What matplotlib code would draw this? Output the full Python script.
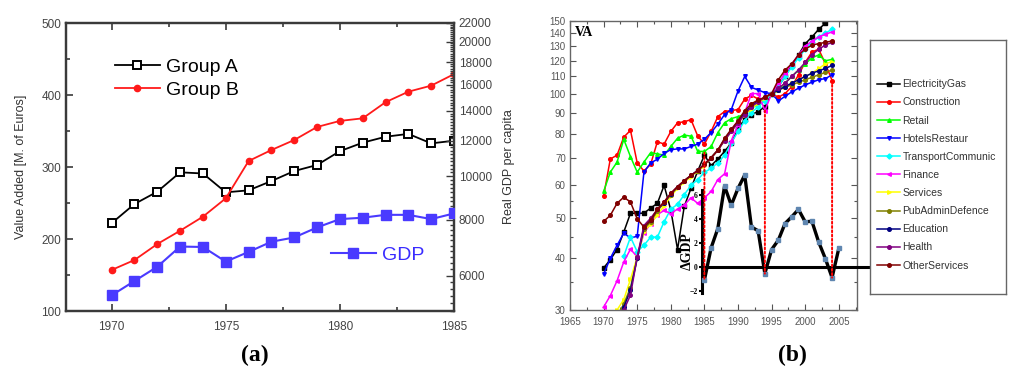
import numpy as np
import matplotlib
matplotlib.use("Agg")
import matplotlib.pyplot as plt
from matplotlib import font_manager as fm
from matplotlib.ticker import FixedLocator, NullFormatter, FuncFormatter, MultipleLocator
from matplotlib.patches import ConnectionPatch

# ---------------- data: panel (a) ----------------
years_a = list(range(1970, 1986))
group_a = [222, 248.6, 265.7, 292.6, 291, 264.8, 267.6, 280.5, 294.4, 302.8, 322, 333.8, 342, 346, 332.8, 336.5]
group_b = [157, 170.8, 193, 211.5, 231, 256.5, 308.3, 323.6, 337.5, 355.6, 364, 367.6, 390, 404.6, 413, 429]
gdp_pc = [5420, 5834, 6278, 6966, 6950, 6447, 6776, 7141, 7300, 7685, 8022, 8080, 8200, 8200, 8022, 8260]

# ---------------- data: panel (b) ----------------
years_b = list(range(1970, 2005))
nan = np.nan
electricity_gas = [37.9, 39.7, 42, 46.3, 51.4, 51.4, 51.4, 52.9, 54.3, 60, 52.3, 42, 53.4, 59, 65, 71, 67, 69.5, 72.5, 76,
                   82, 87, 89, 90.5, 93, 100, 104, 110, 117, 124, 132, 137, 143, 148, 152]
construction = [56.5, 69.5, 71, 78.5, 81.5, 68, 65, 67.5, 76.5, 75.5, 81, 85, 85.5, 86.5, 79, 75.5, 81, 88, 90.5, 91,
                91.5, 97, 99, 97, 97, 100, 98, 100, 104, 111, 119, 126, 128, 118, 107.5]
retail = [58, 64.6, 68.3, 77.5, 70.4, 64.6, 68.3, 72, 71.5, 71, 74.5, 78, 79.4, 78.9, 72.5, 72.5, 74.5, 80.5, 85, 87,
          88, 89, 92, 94.5, 97, 100, 102, 106, 110, 114, 118, 122, 124, 120, 121]
hotels_restaur = [36.6, 40, 43, 46, 44.8, 45.2, 64.6, 68, 69.4, 71.7, 73.2, 73.5, 73.5, 74.5, 75.5, 77.6, 80.5, 84.4, 89,
                  91.5, 101.5, 110, 103.5, 102, 100.5, 100, 96, 98.5, 101, 103, 105, 106.5, 108, 108.7, 111]
transport_communic = [nan, nan, nan, 40.5, 45, 41.5, 43, 45, 45, 49, 52.6, 54, 57, 60, 62, 64.5, 66, 68, 71, 76,
                      81, 86, 90, 93, 96, 100, 104, 110, 116, 122, 128, 133, 137, 140, 143]
finance = [30.5, 32.5, 35.3, 39.2, 42.1, 40.3, 46, 48.5, 51, 52.2, 51.3, 52.6, 53.8, 56, 54.3, 56, 58, 62, 64, 77,
           84, 90, 100, 100, 91, 100, 106, 112, 118, 124, 130, 134, 137, 139, 141]
services = [24, 27, 30, 31.8, 35.6, 40.3, 46.4, 48.5, 51, 53.5, 56.5, 59, 61, 63, 65, 67, 70, 73, 77, 81,
            85, 89, 92, 95, 97.5, 100, 102, 104, 106, 108, 110, 112, 115, 118, 119.5]
pub_admin_defence = [23, 26, 29, 31, 34, 40, 47, 49, 52, 54.5, 57, 59.5, 61.5, 63.5, 65, 67.5, 70, 73, 77.5, 81.5,
                     85.5, 90, 93, 96, 98, 100, 102, 103.5, 105, 106.5, 108, 109.5, 111, 112.5, 114]
education = [22.5, 25.5, 28.5, 30.5, 33.5, 40, 47.5, 49.5, 52.5, 54.5, 57.2, 59.5, 61.5, 63.4, 65.2, 67.5, 70, 73, 77.5, 81.5,
             85.5, 90, 93.5, 96, 98, 100, 102, 104, 106, 108, 110, 112, 113.5, 115, 117]
health = [22, 25, 27.5, 30, 32.6, 40.3, 48, 50, 52.5, 54.7, 57.4, 59.6, 61.6, 63.4, 65.2, 67.5, 70, 73, 77, 81,
          85, 89, 93, 95.5, 98, 100, 103, 106, 110, 114, 119, 124, 128, 131, 133]
other_services = [49.1, 50.8, 54.3, 56.2, 54.7, 49.8, 47.6, 49.4, 52.6, 54.7, 57.4, 59.6, 61.6, 63.4, 65.2, 67.5, 70, 73, 78, 82,
                  86, 91, 94.5, 96.5, 98, 100, 108, 114, 118, 124, 128, 131, 132, 133, 134]

sector_names = ["ElectricityGas", "Construction", "Retail", "HotelsRestaur", "TransportCommunic", "Finance",
                "Services", "PubAdminDefence", "Education", "Health", "OtherServices"]
sector_values = [electricity_gas, construction, retail, hotels_restaur, transport_communic, finance,
                 services, pub_admin_defence, education, health, other_services]

years_dgdp = list(range(1985, 2006))
delta_gdp = [-1.11, 1.58, 3.19, 6.72, 5.14, 6.53, 7.64, 3.33, 3.0, -0.56, 1.44, 2.22, 3.61, 4.17, 4.78, 3.75, 3.8,
             2.08, 0.69, -0.89, 1.53]
cycle_years = [1985, 1994, 2004]
cycle_top_va = [72, 91, 107.5]

# ---------------- styling ----------------
names = {f.name for f in fm.fontManager.ttflist}
SANS = "Liberation Sans" if "Liberation Sans" in names else "DejaVu Sans"
SERIF = "Liberation Serif" if "Liberation Serif" in names else "DejaVu Serif"
plt.rcParams["font.family"] = [SANS, "DejaVu Sans"]

sector_colors = ["#000000", "#ff0000", "#00ff00", "#0000ff", "#00ffff", "#ff00ff",
                 "#ffff00", "#808000", "#000080", "#800080", "#800000"]
sector_markers = ["s", "o", "^", "v", "D", "<", ">", "o", "o", "o", "o"]

W, H = 1024, 390
fig = plt.figure(figsize=(W / 100, H / 100), dpi=100)


def px_axes(l, t, r, b, **kw):
    return fig.add_axes([l / W, 1 - b / H, (r - l) / W, (b - t) / H], **kw)


# ================= panel (a) =================
gray = "#3a3a3a"
axA = px_axes(66, 23, 454, 311)
axA.set_xlim(1968, 1985)
axA.set_ylim(100, 500)
axA.xaxis.set_major_locator(FixedLocator([1970, 1975, 1980, 1985]))
axA.xaxis.set_minor_locator(MultipleLocator(2.5))
axA.yaxis.set_major_locator(MultipleLocator(100))
axA.yaxis.set_minor_locator(MultipleLocator(50))
axA.tick_params(which="both", direction="in", top=True, right=False, color=gray, width=1.2,
                labelsize=8.5, labelcolor="#444444")
axA.tick_params(which="major", length=5)
axA.tick_params(which="minor", length=3)
axA.tick_params(axis="x", pad=7)
for s in axA.spines.values():
    s.set_color(gray)
    s.set_linewidth(1.6)
axA.set_ylabel("Value Added [M. of Euros]", fontsize=9, color="#333333", labelpad=10)

la, = axA.plot(years_a, group_a, color="black", marker="s", mfc="white", mec="black", ms=5.5, mew=1.4,
               lw=1.3, label="Group A", zorder=3)
lb, = axA.plot(years_a, group_b, color="#ff1a1a", marker="o", ms=4.5, lw=1.3, label="Group B", zorder=3)

axA2 = axA.twinx()
axA2.set_yscale("log")
axA2.set_ylim(5000, 22000)
majors = list(range(6000, 22001, 2000))
axA2.yaxis.set_major_locator(FixedLocator(majors))
axA2.yaxis.set_major_formatter(FuncFormatter(lambda v, p: "%d" % round(v)))
axA2.yaxis.set_minor_locator(FixedLocator([v for v in range(5000, 22001, 200) if v not in majors]))
axA2.yaxis.set_minor_formatter(NullFormatter())
axA2.tick_params(which="both", direction="in", color=gray, width=1.0, labelsize=8.5, labelcolor="#444444")
axA2.tick_params(which="major", length=6)
axA2.tick_params(which="minor", length=3)
for s in axA2.spines.values():
    s.set_color(gray)
    s.set_linewidth(1.6)
axA2.set_ylabel("Real GDP per capita", fontsize=9, color="#333333", labelpad=8)
lg, = axA2.plot(years_a, gdp_pc, color="#4a3aff", marker="s", ms=7.5, lw=1.5, label="GDP", zorder=3)

legA = fig.legend(handles=[la, lb], loc="upper left", bbox_to_anchor=(115 / W, 1 - 58 / H), frameon=False,
                  fontsize=14, handlelength=2.3, handletextpad=0.3, labelspacing=0.3, borderpad=0,
                  borderaxespad=0)
legG = fig.legend(handles=[lg], loc="upper left", bbox_to_anchor=(331 / W, 1 - 246 / H), frameon=False,
                  fontsize=14, handlelength=2.3, handletextpad=0.3, borderpad=0, borderaxespad=0)
for t in legG.get_texts():
    t.set_color("#3a2cff")

fig.text(255 / W, 1 - 355 / H, "(a)", ha="center", va="center", fontsize=17, fontweight="bold", family=SERIF)

# ================= panel (b) =================
axB = px_axes(570, 20.7, 857, 310)
axB.set_yscale("log")
axB.set_xlim(1965, 2007.7)
axB.set_ylim(30, 150)
axB.xaxis.set_major_locator(FixedLocator(list(range(1965, 2006, 5))))
axB.xaxis.set_minor_locator(MultipleLocator(2.5))
yt = list(range(30, 151, 10))
axB.yaxis.set_major_locator(FixedLocator(yt))
axB.yaxis.set_major_formatter(FuncFormatter(lambda v, p: "%d" % round(v)))
axB.yaxis.set_minor_locator(FixedLocator([35, 45, 55]))
axB.yaxis.set_minor_formatter(NullFormatter())
axB.tick_params(which="both", direction="in", top=True, right=True, color="#555555", width=0.8,
                labelsize=7, labelcolor="#555555")
axB.tick_params(which="major", length=4)
axB.tick_params(which="minor", length=2.5)
axB.tick_params(axis="x", pad=5)
axB.tick_params(axis="y", pad=3)
for s in axB.spines.values():
    s.set_color("#666666")
    s.set_linewidth(1.0)

handles_b = []
for name, vals, c, m in zip(sector_names, sector_values, sector_colors, sector_markers):
    h, = axB.plot(years_b, vals, color=c, marker=m, ms=2.6, mec=c, lw=1.1, label=name)
    handles_b.append(h)

fig.text(583.5 / W, 1 - 32.5 / H, "VA", ha="center", va="center", fontsize=10, fontweight="bold", family=SERIF)

# inset: ΔGDP
axIn = px_axes(702.3, 190, 875, 293.3)
axIn.patch.set_alpha(0)
axIn.set_xlim(1984.69, 1984.69 + (875 - 702.3) / 6.72)
axIn.set_ylim(-2.2, 6.4)
for k in ["top", "right", "bottom"]:
    axIn.spines[k].set_visible(False)
axIn.spines["left"].set_linewidth(2.2)
axIn.set_xticks([])
axIn.yaxis.set_major_locator(FixedLocator([-2, 0, 2, 4, 6]))
axIn.tick_params(axis="y", direction="out", length=2.5, width=1.5, labelsize=5.5, pad=1)
for lab in axIn.get_yticklabels():
    lab.set_family(SERIF)
    lab.set_fontweight("bold")
axIn.axhline(0, color="black", lw=2.2, clip_on=False)
axIn.plot(years_dgdp, delta_gdp, color="black", lw=2.4, marker="s", ms=3.2, mfc="#5f86b0", mec="#5f86b0",
          clip_on=False, zorder=3)
fig.text(687.5 / W, 1 - 251 / H, "\u0394GDP", rotation=90, ha="center", va="center", fontsize=10,
         fontweight="bold", family=SERIF)

for yr, top in zip(cycle_years, cycle_top_va):
    bottom = delta_gdp[years_dgdp.index(yr)]
    cp = ConnectionPatch(xyA=(yr, top), coordsA=axB.transData, xyB=(yr, bottom), coordsB=axIn.transData,
                         color="#ff0000", linestyle=(0, (1, 1.2)), lw=1.4, zorder=2)
    fig.add_artist(cp)

# legend box for panel (b)
axL = px_axes(870, 40, 1006, 294)
axL.set_xticks([])
axL.set_yticks([])
for s in axL.spines.values():
    s.set_color("#666666")
    s.set_linewidth(1.0)
legB = axL.legend(handles=handles_b, loc="upper left", bbox_to_anchor=(0.055, 0.845), frameon=False,
                  fontsize=7.5, handlelength=2.2, handletextpad=0.2,
                  labelspacing=0.78, borderpad=0, borderaxespad=0)
for t in legB.get_texts():
    t.set_color("#333333")

fig.text(792 / W, 1 - 355 / H, "(b)", ha="center", va="center", fontsize=17, fontweight="bold", family=SERIF)

fig.savefig("out.png", dpi=100)
